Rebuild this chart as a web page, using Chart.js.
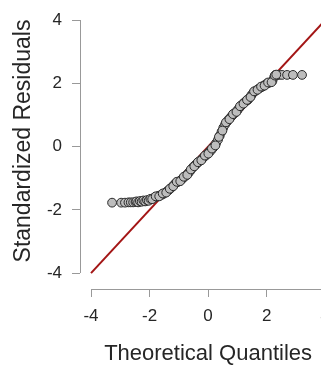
<!DOCTYPE html>
<html>
<head>
<meta charset="utf-8">
<script src="https://cdn.jsdelivr.net/npm/chart.js@4"></script>
<style>
  html, body { margin: 0; padding: 0; background: #fff; overflow: hidden; width: 321px; height: 365px; }
  #wrap { width: 345px; height: 365px; position: relative; }
</style>
</head>
<body>
<div id="wrap"><canvas id="qq"></canvas></div>
<script>
// theoretical quantiles vs standardized residuals
const quantiles = [
  -3.28, -2.97, -2.84, -2.72, -2.64, -2.56, -2.48, -2.42, -2.36, -2.30,
  -2.24, -2.18, -2.12, -2.06, -2.00, -1.94, -1.88, -1.82, -1.76, -1.70,
  -1.64, -1.58, -1.52, -1.46, -1.40, -1.34, -1.28, -1.22, -1.16, -1.10,
  -1.04, -0.98, -0.92, -0.86, -0.80, -0.74, -0.68, -0.62, -0.56, -0.50,
  -0.44, -0.38, -0.32, -0.26, -0.20, -0.14, -0.08, -0.02, 0.04, 0.10,
  0.16, 0.22, 0.28, 0.34, 0.40, 0.46, 0.52, 0.58, 0.64, 0.70,
  0.76, 0.82, 0.88, 0.94, 1.00, 1.06, 1.12, 1.18, 1.24, 1.30,
  1.36, 1.42, 1.48, 1.54, 1.60, 1.66, 1.72, 1.78, 1.84, 1.90,
  1.96, 2.02, 2.08, 2.14, 2.20, 2.26, 2.30, 2.36, 2.42, 2.53,
  2.70, 2.90, 3.21,
  -2.45, -2.39, -2.33, -2.27, -2.21, -2.15, -2.09, -2.03, -1.97, -1.91,
  -1.79, -1.67, -1.55, -1.43, -1.31, -1.19, -1.07, -0.95, -0.83, -0.71,
  -0.59, -0.47, -0.35, -0.23, -0.11, 0.01, 0.13, 0.25, 0.37, 0.49,
  0.61, 0.73, 0.85, 0.97, 1.09, 1.21, 1.33, 1.45, 1.57, 1.69,
  1.81, 1.93, 2.05, 2.17, 2.28, 2.33
];
const residuals = [
  -1.77, -1.77, -1.77, -1.76, -1.76, -1.76, -1.75, -1.74, -1.74, -1.73,
  -1.72, -1.72, -1.71, -1.70, -1.68, -1.66, -1.63, -1.60, -1.58, -1.56,
  -1.54, -1.52, -1.49, -1.45, -1.41, -1.37, -1.32, -1.26, -1.20, -1.15,
  -1.12, -1.09, -1.05, -1.00, -0.95, -0.90, -0.84, -0.78, -0.70, -0.63,
  -0.58, -0.53, -0.48, -0.43, -0.38, -0.33, -0.28, -0.22, -0.17, -0.12,
  -0.05, 0.03, 0.12, 0.22, 0.35, 0.47, 0.60, 0.70, 0.78, 0.86,
  0.92, 0.98, 1.04, 1.09, 1.15, 1.22, 1.29, 1.35, 1.40, 1.44,
  1.48, 1.55, 1.63, 1.70, 1.75, 1.79, 1.83, 1.86, 1.89, 1.93,
  1.97, 2.00, 2.02, 2.04, 2.08, 2.20, 2.27, 2.27, 2.27, 2.27,
  2.27, 2.27, 2.27,
  -1.73, -1.76, -1.72, -1.74, -1.70, -1.73, -1.69, -1.71, -1.65, -1.66,
  -1.57, -1.57, -1.48, -1.45, -1.33, -1.25, -1.11, -1.09, -0.95, -0.89,
  -0.72, -0.62, -0.49, -0.43, -0.28, -0.22, -0.06, 0.04, 0.31, 0.51,
  0.77, 0.87, 1.03, 1.10, 1.28, 1.36, 1.48, 1.57, 1.75, 1.80,
  1.90, 1.93, 2.03, 2.04, 2.25, 2.28
];
// identity reference line
const refLineX = [-4, 4.2];
const refLineY = [-4, 4.2];

const xTicks = [-4, -2, 0, 2, 4];
const yTicks = [-4, -2, 0, 2, 4];

const AXIS_COLOR = '#999999';
const TEXT_COLOR = '#262626';

Chart.defaults.font.family = '"Liberation Sans", Arial, sans-serif';

// JASP style axes: lines only span the tick range, titles placed on that range
const jaspAxes = {
  id: 'jaspAxes',
  beforeDatasetsDraw(chart) {
    const { ctx, scales: { x, y } } = chart;
    const x0 = Math.round(x.getPixelForValue(xTicks[0]));
    const x1 = Math.round(x.getPixelForValue(xTicks[xTicks.length - 1]));
    const y0 = Math.round(y.getPixelForValue(yTicks[0]));
    const y1 = Math.round(y.getPixelForValue(yTicks[yTicks.length - 1]));
    ctx.save();
    ctx.strokeStyle = AXIS_COLOR;
    ctx.lineWidth = 1;
    ctx.beginPath();
    ctx.moveTo(x.left + 0.5, y0);
    ctx.lineTo(x.left + 0.5, y1);
    ctx.moveTo(x0, y.bottom + 0.5);
    ctx.lineTo(x1, y.bottom + 0.5);
    ctx.stroke();
    ctx.restore();
  },
  afterDraw(chart) {
    const { ctx, scales: { x, y } } = chart;
    ctx.save();
    ctx.fillStyle = TEXT_COLOR;
    ctx.textAlign = 'center';
    ctx.textBaseline = 'middle';
    ctx.font = '22px "Liberation Sans", Arial, sans-serif';
    const xc = (x.getPixelForValue(xTicks[0]) + x.getPixelForValue(xTicks[xTicks.length - 1])) / 2;
    ctx.fillText('Theoretical Quantiles', xc, 354);
    ctx.translate(24, 141);
    ctx.rotate(-Math.PI / 2);
    ctx.font = '23px "Liberation Sans", Arial, sans-serif';
    ctx.fillText('Standardized Residuals', 0, 0);
    ctx.restore();
  }
};

new Chart(document.getElementById('qq'), {
  type: 'scatter',
  data: {
    datasets: [
      {
        label: 'Residuals',
        data: quantiles.map((q, i) => ({ x: q, y: residuals[i] })),
        pointRadius: 4.4,
        pointBorderWidth: 1,
        pointBackgroundColor: '#bdbdbd',
        pointBorderColor: '#2a2a2a',
        order: 1,
      },
      {
        label: 'Reference',
        type: 'line',
        data: refLineX.map((v, i) => ({ x: v, y: refLineY[i] })),
        borderColor: '#a31515',
        borderWidth: 2,
        pointRadius: 0,
        fill: false,
        order: 2,
      },
    ],
  },
  options: {
    responsive: true,
    maintainAspectRatio: false,
    animation: false,
    layout: { padding: { top: 20, right: 14, left: 0, bottom: 0 } },
    plugins: {
      legend: { display: false },
      tooltip: { enabled: false },
    },
    scales: {
      x: {
        type: 'linear',
        min: -4.376,
        max: 4.2,
        afterFit: (s) => { s.height = 76; },
        afterBuildTicks: (s) => { s.ticks = xTicks.map(v => ({ value: v })); },
        border: { display: false },
        grid: { drawOnChartArea: false, drawTicks: true, tickLength: 8, color: AXIS_COLOR },
        ticks: { font: { size: 17 }, color: TEXT_COLOR, padding: 9, maxRotation: 0 },
      },
      y: {
        type: 'linear',
        min: -4.5,
        max: 4,
        afterFit: (s) => { s.width = 80; },
        afterBuildTicks: (s) => { s.ticks = yTicks.map(v => ({ value: v })); },
        border: { display: false },
        grid: { drawOnChartArea: false, drawTicks: true, tickLength: 8, color: AXIS_COLOR },
        ticks: { font: { size: 17 }, color: TEXT_COLOR, padding: 10 },
      },
    },
  },
  plugins: [jaspAxes],
});
</script>
</body>
</html>
